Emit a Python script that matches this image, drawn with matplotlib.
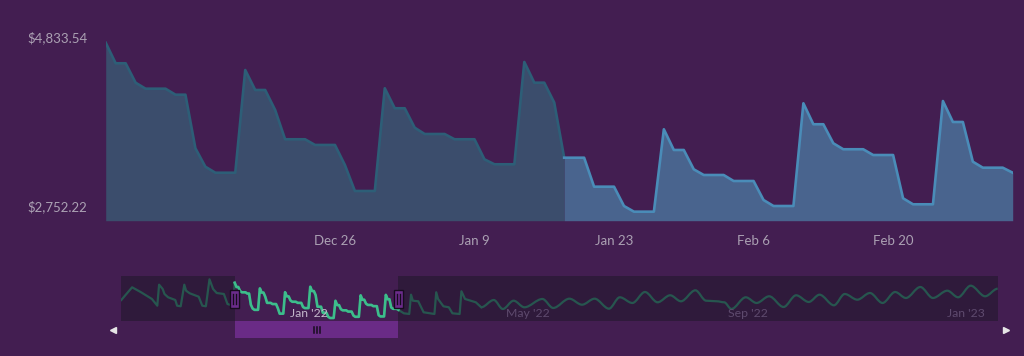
import numpy as np
import pandas as pd
import matplotlib
matplotlib.use("Agg")
import matplotlib.pyplot as plt
import matplotlib.dates as mdates
from matplotlib.patches import Rectangle, PathPatch
from matplotlib.path import Path
from matplotlib.transforms import ScaledTranslation, blended_transform_factory

plt.rcParams['font.family'] = ['Lato', 'DejaVu Sans']

# ---------------- data ----------------
start_date = '2021-12-03'
balance = [
    4833.54, 4580, 4580, 4341, 4267, 4267, 4267, 4193, 4193, 3533,
    3306, 3232, 3232, 3232, 4497, 4251, 4251, 4005, 3644, 3644,
    3644, 3574, 3574, 3574, 3327, 3007, 3007, 3007, 4272, 4026,
    4026, 3787, 3709, 3709, 3709, 3644, 3644, 3644, 3397, 3336,
    3336, 3336, 4596, 4341, 4341, 4097, 3417, 3417, 3417, 3060,
    3060, 3060, 2822, 2752.22, 2752.22, 2752.22, 3767, 3512, 3512, 3274,
    3204, 3204, 3204, 3130, 3130, 3130, 2896, 2822, 2822, 2822,
    4087, 3829, 3829, 3595, 3521, 3521, 3521, 3450, 3450, 3450,
    2917, 2843, 2843, 2843, 4115, 3857, 3857, 3368, 3294, 3294,
    3294, 3232,
]
zone_split_date = '2022-01-18'
y_tick_values = [2752.22, 4833.54]
y_tick_labels = ['$2,752.22', '$4,833.54']
x_tick_dates = ['2021-12-26', '2022-01-09', '2022-01-23', '2022-02-06', '2022-02-20']
x_tick_labels = ['Dec 26', 'Jan 9', 'Jan 23', 'Feb 6', 'Feb 20']

# navigator (days relative to start_date)
nav_start, nav_end = '2021-10-01', '2023-01-31'
nav_pre_days = [-63, -57, -52, -46, -43, -42, -40, -39, -37, -33, -32, -30,
                -28, -27, -25, -20, -18, -16, -14, -12, -10, -6, -4, -1]
nav_pre_vals = [3813, 4562, 4268, 3873, 3478, 4716, 4462, 4167, 3973, 3813, 3478, 3442,
                4716, 4362, 4209, 4008, 3478, 3442, 5034, 4462, 4226, 4167, 3578, 3480]
nav_post_days = [94, 97, 98, 99, 102, 105, 111, 112, 113, 116, 119, 121, 125, 126, 128, 134,
                 137, 144, 149, 155, 161, 171, 177, 186, 193, 200,
                 208, 214, 221, 228, 235, 242, 248, 256, 262, 268,
                 272, 276, 284, 290, 297, 305, 312, 319, 325, 333,
                 339, 346, 353, 360, 367, 373, 381, 388, 396, 402,
                 409, 417, 424]
nav_post_vals = [3029, 2988, 4126, 3772, 3737, 3088, 2988, 4268, 3873, 3442, 3383, 3029, 2988, 4327, 3873, 3678,
                 3383, 3813, 3283, 3772, 3383, 3873, 3342, 3890, 3536, 3890,
                 3301, 3973, 3637, 4285, 3678, 4091, 3737, 4385, 3772, 3737,
                 3678, 3283, 3973, 3637, 4032, 3401, 4091, 3696, 4126, 3501,
                 4167, 3831, 4226, 3637, 4285, 3931, 4580, 3931, 4362, 3973,
                 4657, 4032, 4480]
wave_from_day = 137
nav_tick_dates = ['2022-01-01', '2022-05-01', '2022-09-01', '2023-01-01']
nav_tick_labels = ["Jan '22", "May '22", "Sep '22", "Jan '23"]

# ---------------- style ----------------
BG = '#431e51'
LEFT_FILL, LEFT_LINE = '#3b4d6c', '#2d5e77'
RIGHT_FILL, RIGHT_LINE = '#49648e', '#4a8cb8'
LABEL = '#aba1b3'
MASK = '#2f1a3b'
NAV_ON, NAV_OFF = '#3dbd8c', '#27564f'
NAV_LBL_ON, NAV_LBL_OFF = '#c4b8cb', '#5e4a6e'
HANDLE = '#6c2c8c'
DARK = '#170c1e'

W, H = 1024, 356
fig = plt.figure(figsize=(W / 100, H / 100), dpi=100)
fig.patch.set_facecolor(BG)


def frac(l, t, r, b):
    return [l / W, 1 - b / H, (r - l) / W, (b - t) / H]


# ---------------- main chart ----------------
base = pd.Timestamp(start_date)
dates = pd.date_range(start_date, periods=len(balance), freq='D')
x = mdates.date2num(dates)
v = np.array(balance, dtype=float)
split = mdates.date2num(pd.Timestamp(zone_split_date))
ymin, ymax = 2641, 4990

ax = fig.add_axes(frac(105.7, 30, 1012.7, 220.7))
ax.set_facecolor(BG)
left = x <= split
right = x >= split
ax.fill_between(x[left], v[left], ymin, color=LEFT_FILL, lw=0, zorder=1)
ax.fill_between(x[right], v[right], ymin, color=RIGHT_FILL, lw=0, zorder=1)
ax.plot(x[left], v[left], color=LEFT_LINE, lw=1.9, solid_joinstyle='round', zorder=2)
ax.plot(x[right], v[right], color=RIGHT_LINE, lw=1.9, solid_joinstyle='round', zorder=2)
ax.set_xlim(x[0], x[-1])
ax.set_ylim(ymin, ymax)
for s in ax.spines.values():
    s.set_visible(False)
ax.set_xticks(mdates.date2num(pd.to_datetime(x_tick_dates)))
ax.set_xticklabels(x_tick_labels)
ax.set_yticks(y_tick_values)
ax.set_yticklabels(y_tick_labels)
ax.tick_params(axis='x', length=0, pad=10, labelsize=9.5, labelcolor=LABEL)
ax.tick_params(axis='y', length=0, pad=13, labelsize=9.5, labelcolor=LABEL)
for lab in ax.get_yticklabels():
    lab.set_transform(lab.get_transform() + ScaledTranslation(0, 0.055, fig.dpi_scale_trans))

# ---------------- navigator ----------------
nav = fig.add_axes(frac(121.3, 276, 997.7, 321.3))
nav.set_facecolor(BG)
for s in nav.spines.values():
    s.set_visible(False)
nav.set_xticks([])
nav.set_yticks([])
n0 = mdates.date2num(pd.Timestamp(nav_start))
n1 = mdates.date2num(pd.Timestamp(nav_end))
sel0, sel1 = x[0], x[-1]
nylo, nyhi = 2557, 5228

nav.add_patch(Rectangle((n0, nylo), sel0 - n0, nyhi - nylo, color=MASK, lw=0, zorder=1))
nav.add_patch(Rectangle((sel1, nylo), n1 - sel1, nyhi - nylo, color=MASK, lw=0, zorder=1))

pre_x = mdates.date2num(base + pd.to_timedelta(nav_pre_days, unit='D'))
post_x = mdates.date2num(base + pd.to_timedelta(nav_post_days, unit='D'))
post_v = np.array(nav_post_vals, dtype=float)
pd_arr = np.array(nav_post_days)
lin_mask = pd_arr <= wave_from_day
wave_mask = pd_arr >= wave_from_day

lin_x = np.concatenate([pre_x, x, post_x[lin_mask]])
lin_v = np.concatenate([nav_pre_vals, v, post_v[lin_mask]])
nav.plot(lin_x, lin_v, color=NAV_OFF, lw=1.6, zorder=2, scalex=False, scaley=False)

wx, wy = post_x[wave_mask], post_v[wave_mask]
verts = [(wx[0], wy[0])]
codes = [Path.MOVETO]
for i in range(len(wx) - 1):
    d = (wx[i + 1] - wx[i]) / 3
    verts += [(wx[i] + d, wy[i]), (wx[i + 1] - d, wy[i + 1]), (wx[i + 1], wy[i + 1])]
    codes += [Path.CURVE4] * 3
nav.add_patch(PathPatch(Path(verts, codes), fill=False, edgecolor=NAV_OFF, lw=1.6, zorder=2))

nav.plot(x, v, color=NAV_ON, lw=1.9, zorder=3, scalex=False, scaley=False)

blend = blended_transform_factory(nav.transData, nav.transAxes)
lbl_off = ScaledTranslation(0.035, 0, fig.dpi_scale_trans)
for d, lab in zip(nav_tick_dates, nav_tick_labels):
    xd = mdates.date2num(pd.Timestamp(d))
    col = NAV_LBL_ON if sel0 <= xd <= sel1 else NAV_LBL_OFF
    nav.text(xd, 0.18, lab, transform=blend + lbl_off, ha='left', va='center',
             fontsize=8.8, color=col, zorder=4)

# handles
for xd in (sel0, sel1):
    t = fig.dpi_scale_trans + ScaledTranslation(xd, 0.5, blend)
    nav.add_patch(Rectangle((-0.045, -0.09), 0.09, 0.18, transform=t, facecolor=HANDLE,
                            edgecolor=DARK, lw=1, zorder=6, clip_on=False))
    for dx in (-0.012, 0.012):
        nav.plot([dx, dx], [-0.05, 0.05], transform=t, color=DARK, lw=1,
                 zorder=7, clip_on=False, scalex=False, scaley=False)

# scrollbar
sb_h = 16.5 / 45.3
nav.add_patch(Rectangle((sel0, -sb_h), sel1 - sel0, sb_h, transform=blend,
                        color='#6a2b86', lw=0, zorder=5, clip_on=False))
tg = fig.dpi_scale_trans + ScaledTranslation((sel0 + sel1) / 2, -sb_h / 2, blend)
for dx in (-0.03, 0.0, 0.03):
    nav.plot([dx, dx], [-0.03, 0.03], transform=tg, color=DARK, lw=1.1,
             zorder=6, clip_on=False, scalex=False, scaley=False)
ta_l = fig.dpi_scale_trans + ScaledTranslation(0, -sb_h / 2, nav.transAxes)
ta_r = fig.dpi_scale_trans + ScaledTranslation(1, -sb_h / 2, nav.transAxes)
nav.plot([-0.086], [0], marker='<', ms=4, color='#e6e6e6', transform=ta_l,
         clip_on=False, zorder=6, scalex=False, scaley=False)
nav.plot([0.08], [0], marker='>', ms=4, color='#e6e6e6', transform=ta_r,
         clip_on=False, zorder=6, scalex=False, scaley=False)

nav.set_xlim(n0, n1)
nav.set_ylim(nylo, nyhi)

fig.savefig('out.png', dpi=100, facecolor=BG)
